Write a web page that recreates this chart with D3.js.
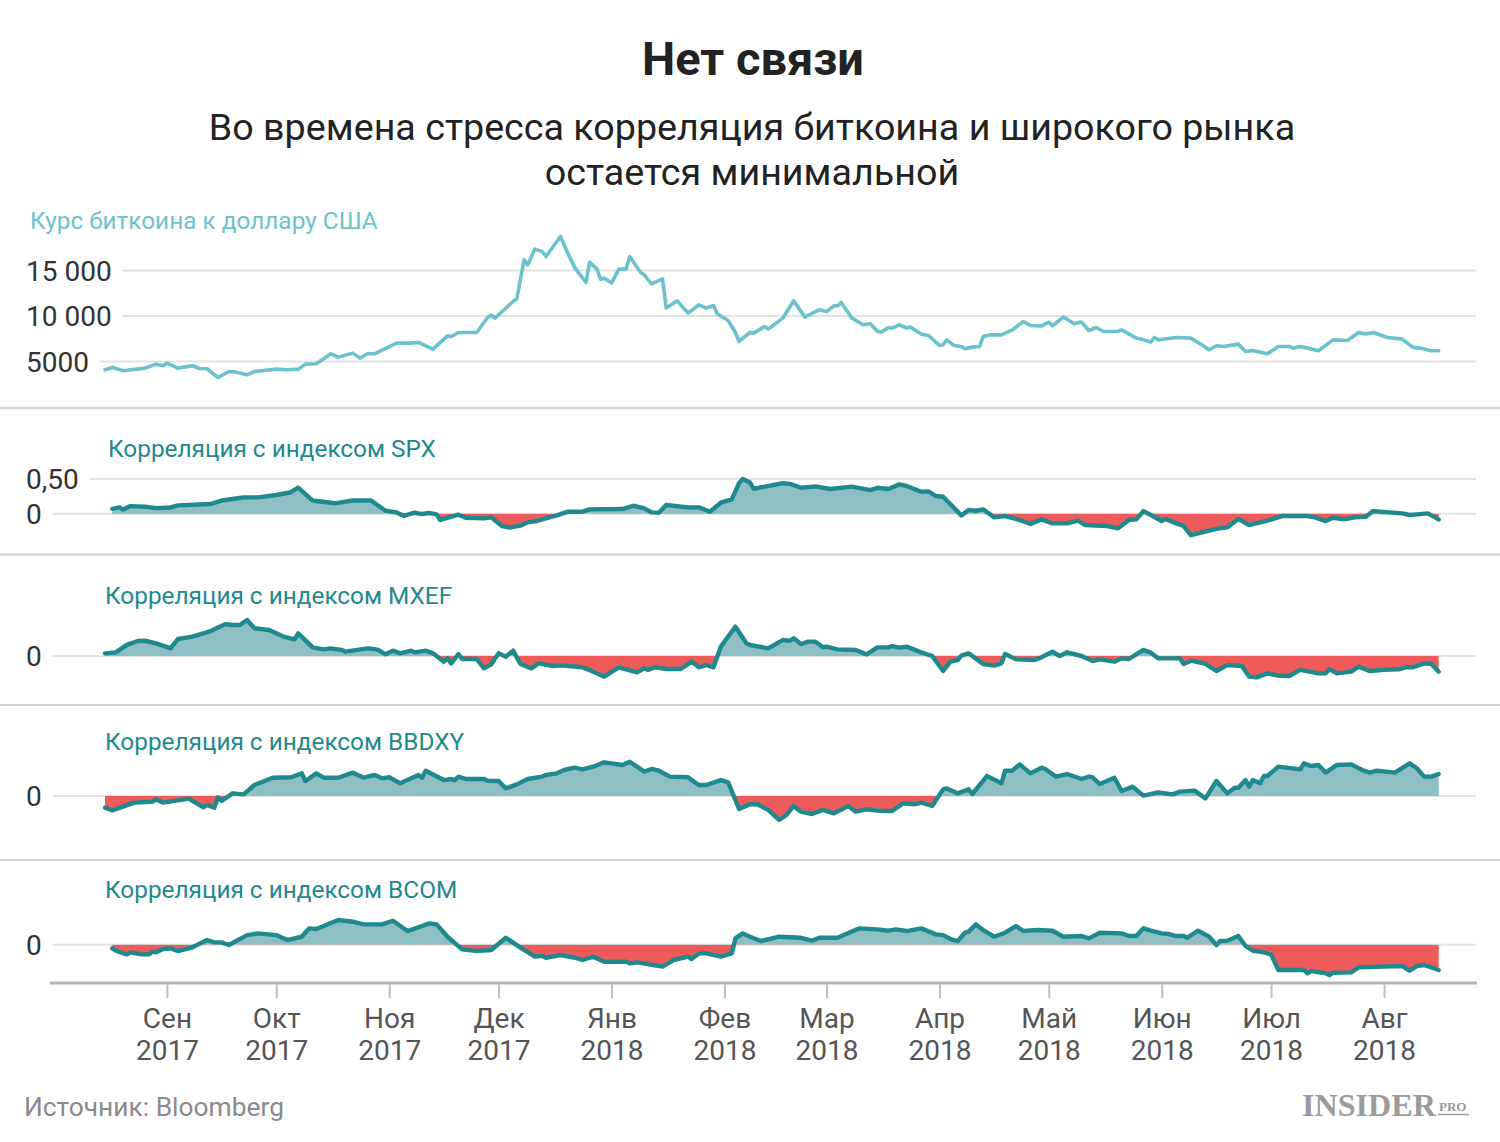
<!DOCTYPE html>
<html><head><meta charset="utf-8">
<script src="https://cdn.jsdelivr.net/npm/d3@7"></script>
<style>body{margin:0;background:#fff}svg{display:block}</style>
</head><body>
<svg id="chart" width="1500" height="1142"></svg>
<script>
// ---------- DATA ----------
// dates are given as days since 15 Aug 2017
const title = "Нет связи";
const subtitleLines = ["Во времена стресса корреляция биткоина и широкого рынка", "остается минимальной"];
const btcLabel = "Курс биткоина к доллару США";
const corrLabels = ["Корреляция с индексом SPX", "Корреляция с индексом MXEF", "Корреляция с индексом BBDXY", "Корреляция с индексом BCOM"];
const sourceText = "Источник: Bloomberg";
const btcTicks = [5000, 10000, 15000];
const btcTickLabels = ["5000", "10 000", "15 000"];
const spxTicks = [0, 0.5];
const spxTickLabels = ["0", "0,50"];
const monthTicks = ["2017-09-01","2017-10-01","2017-11-01","2017-12-01","2018-01-01","2018-02-01","2018-03-01","2018-04-01","2018-05-01","2018-06-01","2018-07-01","2018-08-01"];
const monthNames = ["Сен","Окт","Ноя","Дек","Янв","Фев","Мар","Апр","Май","Июн","Июл","Авг"];
const yearNames = ["2017","2017","2017","2017","2018","2018","2018","2018","2018","2018","2018","2018"];

const btc = [[0,4090],[2,4340],[5,3980],[11,4270],[14,4710],[16,4530],[17,4820],[20,4270],[24,4530],[26,4230],[28,4200],[31,3240],[34,3900],[36,3830],[39,3540],[41,3900],[47,4160],[50,4090],[53,4160],[55,4710],[58,4750],[62,5850],[64,5480],[68,5920],[70,5370],[72,5850],[74,5850],[80,7020],[84,7020],[86,7090],[90,6360],[94,7820],[95,7750],[97,8190],[102,8190],[105,9840],[106,10100],[107,9770],[112,11590],[113,11890],[115,16180],[116,15630],[118,17350],[120,17090],[121,16540],[125,18740],[127,16910],[129,15260],[132,13680],[133,15920],[135,15150],[136,14050],[137,14160],[139,13620],[141,15150],[143,15150],[144,16540],[147,14780],[148,14530],[150,13540],[153,14090],[154,10870],[157,11670],[158,11230],[160,10320],[163,11230],[165,10870],[167,11150],[168,10240],[171,9500],[173,8190],[174,7200],[177,8190],[178,8120],[181,8850],[182,8560],[186,9770],[189,11670],[192,9880],[196,10680],[198,10490],[200,11120],[201,11120],[202,11480],[205,9770],[208,9030],[210,9140],[212,8300],[213,8230],[215,8740],[216,8670],[218,9030],[220,8670],[221,8780],[224,8010],[226,7860],[229,6760],[230,6840],[231,7380],[233,6760],[235,6650],[236,6400],[238,6580],[240,6650],[241,7750],[243,7930],[246,7930],[249,8480],[252,9400],[254,8960],[257,8920],[259,9330],[260,8920],[263,9880],[266,9140],[268,9330],[270,8410],[272,8740],[274,8300],[278,8300],[279,8480],[283,7570],[285,7380],[287,7130],[288,7640],[289,7380],[294,7640],[298,7570],[301,6840],[303,6290],[305,6730],[307,6650],[311,6910],[313,6100],[315,6210],[319,5850],[322,6650],[325,6650],[326,6470],[328,6650],[330,6470],[333,6180],[337,7380],[341,7310],[344,8190],[346,8010],[348,8190],[352,7640],[356,7460],[359,6540],[361,6470],[364,6180],[366,6180]];

const spx = [[2,.07],[4,.09],[5,.06],[7,.11],[11,.10],[14,.08],[18,.09],[20,.12],[29,.14],[32,.19],[38,.235],[42,.235],[47,.27],[51,.31],[53,.375],[57,.19],[63,.15],[68,.19],[73,.19],[77,.043],[80,.019],[82,-.03],[85,.014],[87,-.005],[89,.01],[91,-.01],[92,-.09],[97,-.014],[99,-.058],[104,-.067],[106,-.053],[109,-.18],[111,-.20],[114,-.173],[116,-.125],[118,-.11],[121,-.067],[124,-.024],[127,.029],[131,.029],[133,.063],[142,.067],[145,.115],[148,.077],[150,.019],[152,.014],[154,.125],[160,.091],[163,.091],[166,.029],[169,.159],[172,.207],[174,.44],[175,.50],[177,.45],[178,.36],[186,.44],[188,.43],[191,.375],[195,.394],[199,.356],[205,.39],[210,.34],[212,.375],[215,.356],[218,.423],[220,.40],[224,.317],[226,.322],[228,.255],[230,.245],[235,-.024],[237,.053],[239,.043],[241,.063],[244,-.053],[247,-.034],[251,-.091],[254,-.149],[257,-.082],[260,-.139],[264,-.139],[267,-.10],[269,-.163],[275,-.178],[278,-.21],[281,-.091],[283,-.082],[285,.038],[287,-.019],[290,-.106],[291,-.077],[294,-.139],[296,-.178],[298,-.31],[305,-.22],[308,-.197],[311,-.077],[314,-.163],[319,-.10],[323,-.034],[330,-.034],[332,-.053],[335,-.106],[337,-.058],[340,-.082],[343,-.053],[346,-.043],[348,.038],[350,.029],[356,.005],[358,-.019],[360,-.01],[363,.005],[366,-.082]];

const mxef = [[0,.038],[3,.053],[6,.16],[9,.216],[11,.22],[14,.183],[18,.11],[20,.245],[24,.28],[29,.36],[33,.46],[35,.447],[37,.447],[39,.52],[41,.40],[45,.375],[49,.28],[52,.24],[53,.327],[57,.125],[60,.096],[62,.11],[65,.087],[66,.063],[72,.11],[74,.10],[75,.087],[77,.024],[79,.077],[81,.038],[84,.077],[85,.053],[88,.077],[90,.038],[93,-.082],[94,-.034],[95,-.106],[97,.029],[98,-.043],[102,-.043],[104,-.178],[106,-.12],[108,.038],[110,-.01],[112,.077],[114,-.115],[117,-.178],[119,-.106],[123,-.144],[125,-.135],[131,-.163],[134,-.226],[137,-.298],[141,-.163],[146,-.236],[148,-.178],[149,-.20],[151,-.163],[154,-.188],[158,-.188],[161,-.082],[163,-.163],[165,-.13],[167,-.163],[169,.135],[173,.423],[176,.183],[177,.159],[182,.11],[186,.23],[188,.22],[189,.255],[191,.173],[193,.207],[195,.207],[197,.125],[198,.135],[201,.096],[206,.087],[209,.024],[212,.125],[215,.125],[216,.144],[218,.12],[220,.135],[224,.053],[227,0],[230,-.216],[232,-.082],[234,-.058],[235,.005],[237,.038],[241,-.115],[244,-.139],[246,-.106],[247,.029],[250,-.048],[255,-.058],[257,-.019],[260,.063],[262,0],[264,.053],[268,0],[271,-.072],[273,-.048],[277,-.082],[279,-.034],[281,-.043],[285,.087],[287,.048],[289,-.034],[295,-.034],[296,-.115],[298,-.067],[302,-.115],[305,-.216],[308,-.13],[312,-.144],[314,-.298],[316,-.308],[319,-.25],[322,-.284],[325,-.288],[328,-.20],[333,-.25],[335,-.25],[336,-.188],[338,-.25],[342,-.226],[344,-.154],[347,-.216],[351,-.20],[355,-.192],[357,-.163],[359,-.163],[362,-.106],[364,-.115],[366,-.226]];

const bbdxy = [[0,-.168],[2,-.207],[8,-.096],[13,-.082],[14,-.048],[16,-.096],[23,-.038],[27,-.163],[28,-.13],[30,-.168],[31,-.019],[32,-.072],[35,.038],[38,.024],[41,.159],[46,.264],[51,.27],[54,.327],[55,.216],[58,.327],[60,.264],[64,.264],[68,.337],[71,.264],[74,.303],[76,.255],[78,.27],[81,.183],[86,.303],[87,.264],[88,.365],[93,.23],[95,.245],[96,.23],[97,.28],[99,.245],[104,.245],[105,.221],[108,.216],[110,.11],[113,.168],[116,.245],[120,.28],[121,.303],[124,.327],[126,.375],[129,.409],[131,.385],[134,.423],[137,.486],[142,.447],[144,.495],[148,.351],[150,.39],[152,.365],[155,.28],[160,.27],[161,.23],[163,.159],[165,.159],[169,.23],[171,.197],[174,-.188],[177,-.12],[179,-.12],[182,-.20],[185,-.346],[187,-.274],[189,-.144],[191,-.226],[194,-.26],[197,-.20],[200,-.25],[202,-.20],[204,-.144],[206,-.226],[209,-.192],[212,-.212],[216,-.216],[219,-.106],[222,-.12],[224,-.096],[227,-.144],[230,.096],[231,.11],[234,.038],[237,.096],[238,.029],[242,.288],[246,.183],[247,.365],[249,.365],[251,.457],[254,.327],[257,.409],[258,.39],[261,.279],[264,.317],[268,.245],[270,.279],[271,.27],[273,.173],[277,.264],[279,.072],[282,.135],[285,.005],[289,.053],[293,.024],[295,.063],[299,.077],[302,-.034],[305,.216],[308,.038],[310,.12],[311,.12],[313,.23],[314,.135],[315,.23],[317,.183],[318,.288],[319,.288],[322,.423],[328,.385],[329,.471],[331,.433],[333,.447],[335,.337],[338,.447],[342,.457],[345,.375],[347,.337],[349,.365],[354,.337],[358,.471],[360,.40],[362,.279],[364,.279],[366,.317]];

const bcom = [[2,-.053],[3,-.087],[6,-.14],[7,-.11],[10,-.14],[12,-.14],[13,-.10],[14,-.11],[16,-.063],[18,-.053],[20,-.091],[24,-.038],[28,.067],[30,.034],[32,.034],[34,-.005],[39,.139],[42,.163],[47,.139],[50,.067],[54,.115],[56,.236],[58,.226],[64,.356],[68,.332],[71,.293],[76,.293],[79,.346],[83,.197],[87,.27],[89,.308],[91,.293],[94,.115],[98,-.067],[102,-.091],[106,-.077],[110,.10],[114,-.043],[118,-.173],[120,-.159],[121,-.188],[125,-.149],[129,-.188],[131,-.221],[134,-.173],[137,-.245],[141,-.245],[143,-.245],[144,-.269],[146,-.255],[153,-.317],[156,-.221],[160,-.173],[161,-.207],[163,-.125],[165,-.125],[169,-.173],[172,-.125],[173,.091],[175,.163],[177,.115],[180,.053],[185,.115],[191,.10],[194,.058],[196,.10],[201,.10],[207,.236],[212,.221],[215,.202],[217,.221],[220,.197],[224,.236],[228,.149],[230,.139],[232,.082],[234,.053],[236,.173],[237,.188],[239,.293],[241,.212],[244,.115],[247,.173],[250,.269],[252,.197],[256,.212],[260,.202],[263,.115],[268,.125],[270,.091],[273,.173],[279,.163],[281,.125],[283,.125],[285,.236],[287,.202],[290,.163],[292,.154],[294,.125],[296,.125],[297,.10],[300,.202],[303,.115],[305,-.005],[306,.053],[308,.058],[311,.125],[313,-.019],[315,-.087],[318,-.11],[320,-.139],[322,-.365],[329,-.365],[330,-.413],[331,-.38],[335,-.413],[336,-.438],[337,-.404],[342,-.399],[344,-.327],[356,-.308],[358,-.375],[360,-.308],[362,-.293],[364,-.327],[366,-.365]];

// ---------- DRAWING ----------
const FONT = "Roboto, 'Noto Sans', sans-serif";
const C_TEAL = "#1e8a8d", C_POS = "#8ec0c3", C_NEG = "#ef5a5a", C_BTC = "#6cc2cc";
const C_GRID = "#e3e3e3", C_SEP = "#d2d2d2", C_TEXT = "#222";

const svg = d3.select("#chart");
const defs = svg.append("defs");
const start = new Date(2017, 7, 15);
const toDate = d => d3.timeDay.offset(start, d);
const x = d3.scaleTime().domain([start, new Date(2018, 7, 16)]).range([105, 1438.7]);

function fit(sel, w) {
  const cur = sel.node().getComputedTextLength();
  const fs = parseFloat(sel.attr("font-size"));
  const nfs = fs * w / cur;
  sel.attr("font-size", nfs);
  return nfs;
}

// Title / subtitle
const t = svg.append("text").attr("x", 753).attr("y", 75).attr("text-anchor", "middle")
  .attr("font-family", FONT).attr("font-weight", 700).attr("font-size", 44).attr("fill", C_TEXT).text(title);
fit(t, 222);
const s1 = svg.append("text").attr("x", 752).attr("y", 140).attr("text-anchor", "middle")
  .attr("font-family", FONT).attr("font-size", 34).attr("fill", C_TEXT).text(subtitleLines[0]);
const sfs = fit(s1, 1087);
svg.append("text").attr("x", 752).attr("y", 185).attr("text-anchor", "middle")
  .attr("font-family", FONT).attr("font-size", sfs).attr("fill", C_TEXT).text(subtitleLines[1]);

// separators
[408, 554.5, 705, 860].forEach(yy => {
  svg.append("line").attr("x1", 0).attr("x2", 1500).attr("y1", yy).attr("y2", yy)
    .attr("stroke", C_SEP).attr("stroke-width", 2);
});

function yLabelAndGrid(yPos, label) {
  const tx = svg.append("text").attr("x", 26).attr("y", yPos + 10)
    .attr("font-family", FONT).attr("font-size", 28).attr("fill", "#333").text(label);
  const bb = tx.node().getBBox();
  const x1 = Math.max(50, bb.x + bb.width + 11);
  svg.insert("line", "text").attr("x1", x1).attr("x2", 1476).attr("y1", yPos).attr("y2", yPos)
    .attr("stroke", C_GRID).attr("stroke-width", 2);
}

// BTC panel
const yBtc = d3.scaleLinear().domain([0, 20000]).range([407, 225]);
btcTicks.forEach((v, i) => yLabelAndGrid(yBtc(v), btcTickLabels[i]));
svg.append("path").datum(btc)
  .attr("d", d3.line().x(d => x(toDate(d[0]))).y(d => yBtc(d[1])))
  .attr("fill", "none").attr("stroke", C_BTC).attr("stroke-width", 3.6)
  .attr("stroke-linejoin", "round").attr("stroke-linecap", "round");
const bl = svg.append("text").attr("x", 30).attr("y", 229).attr("font-family", FONT)
  .attr("font-size", 24).attr("fill", C_BTC).text(btcLabel);
fit(bl, 348);

// correlation panels
const corrSeries = [spx, mxef, bbdxy, bcom];
const panelGeom = [
  {zero: 513.7, top: 409, bottom: 553.5, labelX: 108, labelY: 457},
  {zero: 656, top: 555.5, bottom: 704, labelX: 105, labelY: 604},
  {zero: 796, top: 706, bottom: 859, labelX: 105, labelY: 750},
  {zero: 944.7, top: 861, bottom: 982, labelX: 105, labelY: 898}
];
let labelFs = null;
corrSeries.forEach((data, i) => {
  const g = panelGeom[i];
  const y = d3.scaleLinear().domain([-1, 1]).range([g.zero + 69.3, g.zero - 69.3]);
  if (i === 0) spxTicks.forEach((v, k) => yLabelAndGrid(y(v), spxTickLabels[k]));
  else yLabelAndGrid(y(0), "0");

  defs.append("clipPath").attr("id", "pos" + i).append("rect")
    .attr("x", 0).attr("y", g.top).attr("width", 1500).attr("height", y(0) - g.top);
  defs.append("clipPath").attr("id", "neg" + i).append("rect")
    .attr("x", 0).attr("y", y(0)).attr("width", 1500).attr("height", g.bottom - y(0));
  const area = d3.area().x(d => x(toDate(d[0]))).y0(y(0)).y1(d => y(d[1]));
  svg.append("path").datum(data).attr("d", area).attr("fill", C_POS).attr("clip-path", `url(#pos${i})`);
  svg.append("path").datum(data).attr("d", area).attr("fill", C_NEG).attr("clip-path", `url(#neg${i})`);
  svg.append("path").datum(data)
    .attr("d", d3.line().x(d => x(toDate(d[0]))).y(d => y(d[1])))
    .attr("fill", "none").attr("stroke", C_TEAL).attr("stroke-width", 4.4)
    .attr("stroke-linejoin", "round").attr("stroke-linecap", "round");
  const lt = svg.append("text").attr("x", g.labelX).attr("y", g.labelY).attr("font-family", FONT)
    .attr("font-size", labelFs || 24).attr("fill", C_TEAL).text(corrLabels[i]);
  if (i === 0) labelFs = fit(lt, 328);
});

// x axis
svg.append("line").attr("x1", 50).attr("x2", 1477).attr("y1", 983).attr("y2", 983)
  .attr("stroke", "#b5b5b5").attr("stroke-width", 3);
const tickDates = monthTicks.map(s => { const p = s.split("-").map(Number); return new Date(p[0], p[1] - 1, p[2]); });
const axis = d3.axisBottom(x).tickValues(tickDates).tickSize(14).tickSizeOuter(0).tickFormat("");
const ag = svg.append("g").attr("transform", "translate(0,984)").call(axis);
ag.select(".domain").remove();
ag.selectAll(".tick line").attr("stroke", "#c0c0c0").attr("stroke-width", 2);
ag.selectAll(".tick text").remove();
ag.selectAll(".tick").each(function(d, i) {
  const tt = d3.select(this).append("text").attr("text-anchor", "middle")
    .attr("font-family", FONT).attr("font-size", 28).attr("fill", "#555");
  tt.append("tspan").attr("x", 0).attr("y", 44).text(monthNames[i]);
  tt.append("tspan").attr("x", 0).attr("y", 76).text(yearNames[i]);
});

// source
const src = svg.append("text").attr("x", 24).attr("y", 1116).attr("font-family", FONT)
  .attr("font-size", 25).attr("fill", "#8a8a8a").text(sourceText);
fit(src, 260);

// logo
const lg = svg.append("text").attr("x", 1302).attr("y", 1116).attr("font-family", "'Liberation Serif', serif")
  .attr("font-weight", 700).attr("font-size", 31).attr("fill", "#9b9b9b").text("INSIDER");
fit(lg, 134);
svg.append("text").attr("x", 1439).attr("y", 1111).attr("font-family", "'Liberation Serif', serif")
  .attr("font-weight", 700).attr("font-size", 13).attr("fill", "#9b9b9b").text("PRO");
svg.append("line").attr("x1", 1438).attr("x2", 1469).attr("y1", 1114.5).attr("y2", 1114.5)
  .attr("stroke", "#9b9b9b").attr("stroke-width", 1.5);
</script>
</body></html>
